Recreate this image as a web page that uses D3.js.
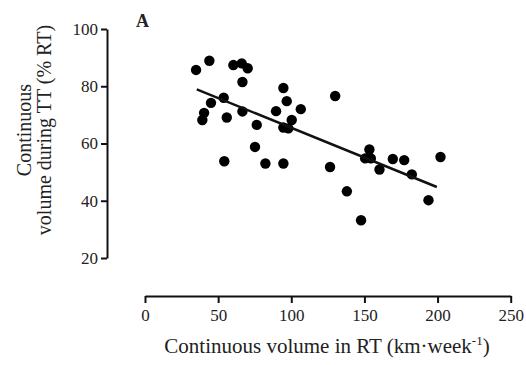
<!DOCTYPE html>
<html>
<head>
<meta charset="utf-8">
<script src="https://cdn.jsdelivr.net/npm/d3@7"></script>
<style>
  body { margin: 0; background: #fff; }
  text { font-family: "Liberation Serif", "Times New Roman", serif; fill: #222; }
</style>
</head>
<body>
<div id="chart"></div>
<script>
// size of window
var width = 526, height = 365;

// continuous volume in RT (km/week)
var rtVolume = [34.9, 44.0, 60.4, 66.1, 70.2, 66.6, 94.6, 53.8, 45.1, 96.9,
  40.4, 39.2, 55.9, 66.6, 89.6, 76.4, 100.3, 94.6, 98.0, 106.5,
  75.2, 54.2, 82.3, 94.6, 130.0, 126.5, 138.0, 147.7, 153.4, 150.5,
  154.4, 160.3, 169.4, 177.2, 182.4, 193.8, 202.0];
// continuous volume during TT (% RT)
var ttVolume = [85.7, 88.9, 87.4, 88.0, 86.3, 81.5, 79.4, 76.0, 74.2, 74.8,
  70.7, 68.2, 69.1, 71.2, 71.3, 66.5, 68.2, 65.6, 65.3, 72.0,
  58.8, 53.8, 53.0, 53.0, 76.6, 51.8, 43.3, 33.2, 57.9, 54.8,
  54.8, 50.9, 54.6, 54.2, 49.2, 40.2, 55.3];

// regression line end points
var fitX = [35.4, 199.5];
var fitY = [78.9, 44.8];

var xTicks = [0, 50, 100, 150, 200, 250];
var yTicks = [20, 40, 60, 80, 100];

var svg = d3.select("#chart").append("svg")
  .attr("width", width)
  .attr("height", height);

var x = d3.scaleLinear().domain([0, 250]).range([145, 510.7]);
var y = d3.scaleLinear().domain([20, 100]).range([258, 29]);

// y axis (detached, prism style)
var yAxis = svg.append("g")
  .attr("transform", "translate(107,0)")
  .call(d3.axisLeft(y).tickValues(yTicks).tickSize(6).tickSizeOuter(0).tickPadding(3));

// x axis
var xAxis = svg.append("g")
  .attr("transform", "translate(0,296)")
  .call(d3.axisBottom(x).tickValues(xTicks).tickSize(7).tickSizeOuter(0).tickPadding(6));

[yAxis, xAxis].forEach(function(a) {
  a.select(".domain").attr("stroke", "#111").attr("stroke-width", 2);
  a.selectAll(".tick line").attr("stroke", "#111").attr("stroke-width", 2);
  a.selectAll(".tick text").style("font-family", "Liberation Serif").style("font-size", "17px").attr("fill", "#333");
});

// points
var pts = rtVolume.map(function(v, i) { return {x: v, y: ttVolume[i]}; });
svg.append("g").selectAll("circle")
  .data(pts)
  .join("circle")
  .attr("cx", function(d) { return x(d.x); })
  .attr("cy", function(d) { return y(d.y); })
  .attr("r", 5.2)
  .attr("fill", "#000");

// regression line
svg.append("line")
  .attr("x1", x(fitX[0])).attr("y1", y(fitY[0]))
  .attr("x2", x(fitX[1])).attr("y2", y(fitY[1]))
  .attr("stroke", "#111")
  .attr("stroke-width", 2.5);

// panel letter
svg.append("text")
  .attr("x", 136).attr("y", 27)
  .style("font-size", "18px")
  .style("font-weight", "bold")
  .text("A");

// x axis title
var xt = svg.append("text")
  .attr("x", 327).attr("y", 353)
  .attr("text-anchor", "middle")
  .style("font-size", "21px");
xt.append("tspan").text("Continuous volume in RT (km\u00b7week");
xt.append("tspan").attr("dy", -8).style("font-size", "13px").text("-1");
xt.append("tspan").attr("dy", 8).text(")");

// y axis title, two lines
var yt = svg.append("text")
  .attr("transform", "translate(0,130) rotate(-90)")
  .attr("text-anchor", "middle")
  .style("font-size", "20px");
yt.append("tspan").attr("x", 0).attr("y", 31).text("Continuous");
yt.append("tspan").attr("x", 0).attr("y", 51).text("volume during TT (% RT)");
</script>
</body>
</html>
